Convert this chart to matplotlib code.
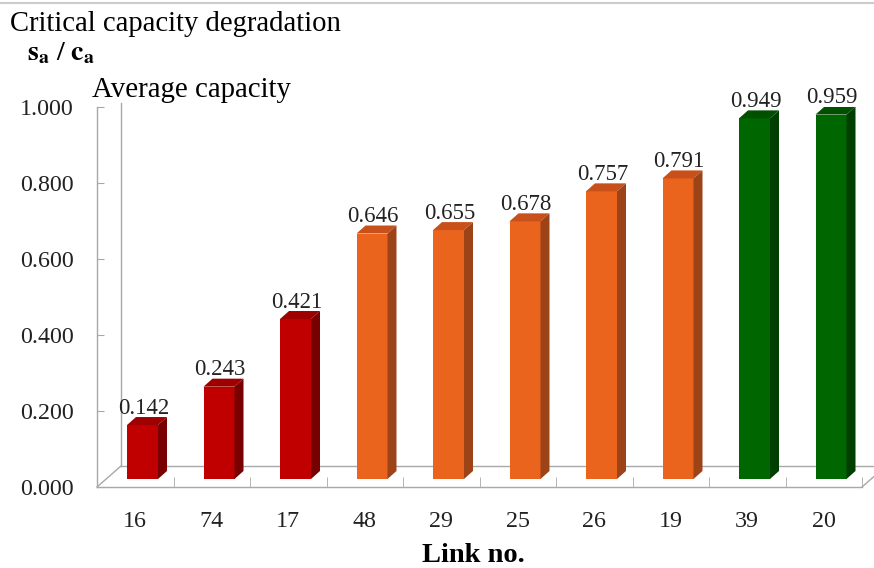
import matplotlib.pyplot as plt
from matplotlib.patches import Polygon
from matplotlib.lines import Line2D

# ── Data ─────────────────────────────────────────────────────────────────────
links  = ["16", "74", "17", "48", "29", "25", "26", "19", "39", "20"]
values = [0.142, 0.243, 0.421, 0.646, 0.655, 0.678, 0.757, 0.791, 0.949, 0.959]
groups = ["red", "red", "red", "orange", "orange", "orange", "orange", "orange",
          "green", "green"]

# front / top / side shades per group
palette = {
    "red":    ("#C00000", "#9E0000", "#780000"),
    "orange": ("#EB641E", "#C8501A", "#9C4418"),
    "green":  ("#006600", "#005000", "#003F00"),
}

plt.rcParams["font.family"] = ["Liberation Serif", "DejaVu Serif"]
plt.rcParams["mathtext.fontset"] = "stix"

W, H = 874, 568
fig = plt.figure(figsize=(W / 100, H / 100), dpi=100)

# axes placed in pixel terms: x 97..862, y 487 (0) .. 107 (1)
x0, x1, y0, y1 = 97, 862, 487, 107
ax = fig.add_axes([x0 / W, 1 - y0 / H, (x1 - x0) / W, (y0 - y1) / H])
n = len(values)
ax.set_xlim(0, n)
ax.set_ylim(0, 1)

px_x = n / (x1 - x0)      # data units per pixel
px_y = 1 / (y0 - y1)

# pseudo-3D floor / wall
grey = "#A8A8A8"
fdx, fdy = 24 * px_x, 21 * px_y
ax.add_line(Line2D([0, fdx], [0, fdy], color=grey, lw=1, clip_on=False))
ax.add_line(Line2D([fdx, fdx], [fdy, 1 + 4 * px_y], color=grey, lw=1, clip_on=False))
ax.add_line(Line2D([fdx, n + 2], [fdy, fdy], color=grey, lw=1, clip_on=False))
ax.add_line(Line2D([n, n + fdx], [0, fdy], color=grey, lw=1, clip_on=False))

# bars
off_x, base = 30 * px_x, 8 * px_y
bw = 31 * px_x
ddx, ddy = 9 * px_x, 8 * px_y
for i, (v, g) in enumerate(zip(values, groups)):
    front, top, side = palette[g]
    l = i + off_x
    r = l + bw
    b = base
    t = base + v
    ax.add_patch(Polygon([(l, b), (r, b), (r, t), (l, t)], closed=True,
                         facecolor=front, edgecolor="none", zorder=3))
    ax.add_patch(Polygon([(l, t), (r, t), (r + ddx, t + ddy), (l + ddx, t + ddy)],
                         closed=True, facecolor=top, edgecolor="none", zorder=3))
    ax.add_patch(Polygon([(r, b), (r + ddx, b + ddy), (r + ddx, t + ddy), (r, t)],
                         closed=True, facecolor=side, edgecolor="none", zorder=3))
    ax.text(l + bw / 2 + 1 * px_x, t + ddy + 9 * px_y, f"{v:.3f}",
            ha="center", va="center", fontsize=16.5, color="#222222", zorder=4)

# axes styling
for s in ["top", "right"]:
    ax.spines[s].set_visible(False)
for s in ["left", "bottom"]:
    ax.spines[s].set_color(grey)
    ax.spines[s].set_linewidth(1)

yt = [0.0, 0.2, 0.4, 0.6, 0.8, 1.0]
ax.set_yticks(yt)
ax.set_yticklabels([f"{t:.3f}" for t in yt])
ax.tick_params(axis="y", direction="in", length=5, color=grey, pad=17,
               labelsize=17.3, labelcolor="#222222")

ax.set_xticks([i + 0.5 for i in range(n)])
ax.set_xticklabels(links)
ax.set_xticks(range(1, n + 1), minor=True)
ax.tick_params(axis="x", which="major", length=0, pad=17, labelsize=17.3,
               labelcolor="#222222")
ax.tick_params(axis="x", which="minor", direction="in", length=7, color=grey)

# texts
fig.text(473 / W, 1 - 556 / H, "Link no.", ha="center", va="center",
         fontsize=20.5, fontweight="bold")
fig.text(10 / W, 1 - 24 / H, "Critical capacity degradation", ha="left",
         va="center", fontsize=20.6)
fig.text(92 / W, 1 - 90 / H, "Average capacity", ha="left", va="center",
         fontsize=20.8)
fig.text(27 / W, 1 - 53 / H, r"$\mathbf{s_a}$ / $\mathbf{c_a}$", ha="left",
         va="center", fontsize=20, fontweight="bold")

fig.add_artist(Line2D([0, 1], [1 - 3 / H, 1 - 3 / H], color="#CCCCCC", lw=1.5))

fig.savefig("out.png", dpi=100)
